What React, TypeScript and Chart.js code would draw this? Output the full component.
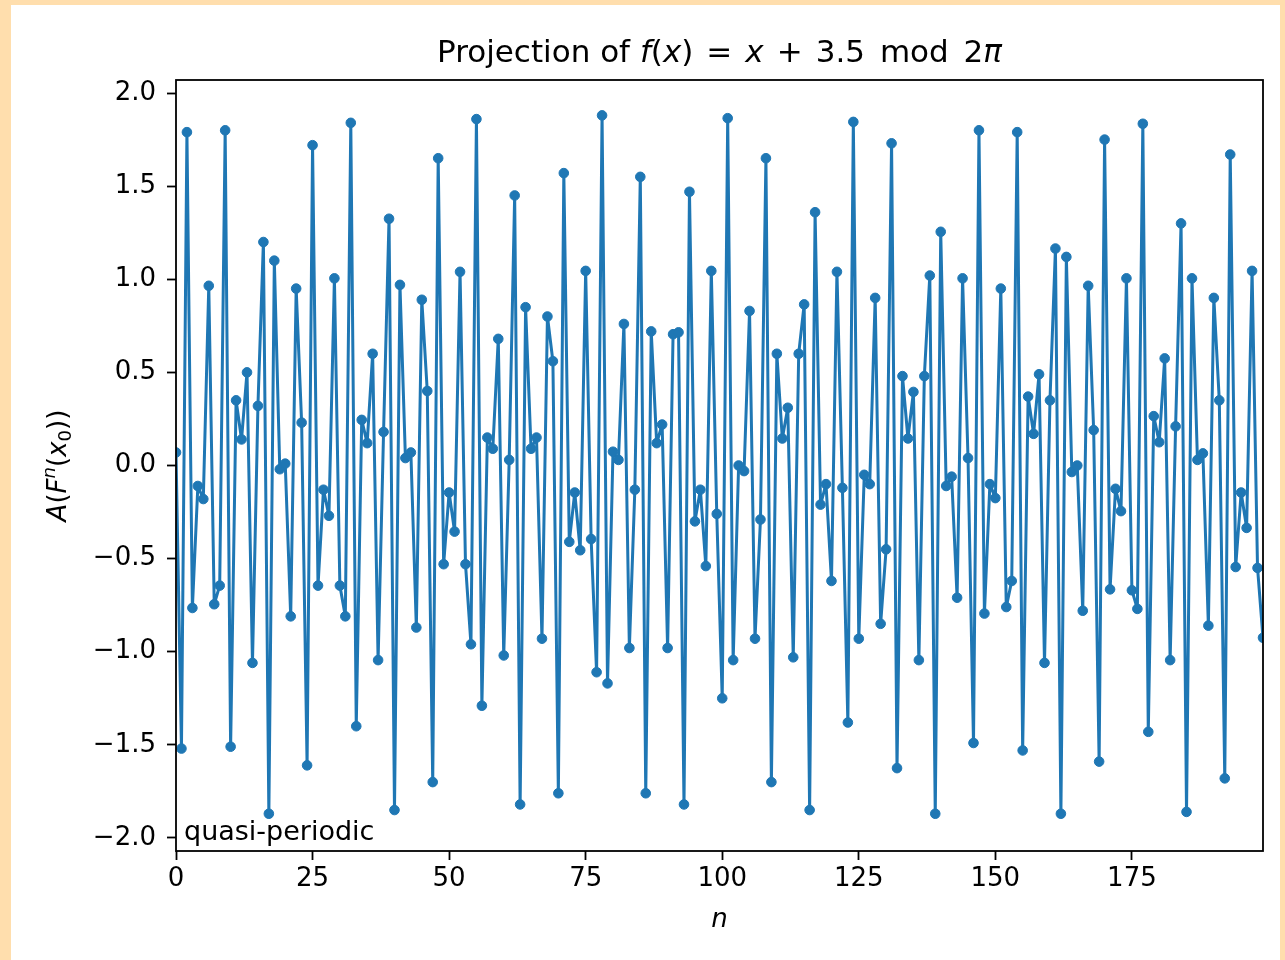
import React, { useEffect, useRef } from 'react';
import { Chart, registerables } from 'chart.js';

Chart.register(...registerables);

// iteration index n (categories on the x axis)
const nValues: number[] = Array.from({ length: 200 }, (_, i) => i);

// A(F^n(x0))
const amplitudes: number[] = [
  0.07, -1.52, 1.79, -0.765, -0.11, -0.18, 0.965, -0.745, -0.645, 1.8,
  -1.51, 0.35, 0.14, 0.5, -1.06, 0.32, 1.2, -1.87, 1.1, -0.02,
  0.01, -0.81, 0.95, 0.23, -1.61, 1.72, -0.645, -0.13, -0.27, 1.005,
  -0.645, -0.81, 1.84, -1.4, 0.245, 0.12, 0.6, -1.045, 0.18, 1.325,
  -1.85, 0.97, 0.04, 0.07, -0.87, 0.89, 0.4, -1.7, 1.65, -0.53,
  -0.145, -0.355, 1.04, -0.53, -0.96, 1.86, -1.29, 0.15, 0.09, 0.68,
  -1.02, 0.03, 1.45, -1.82, 0.85, 0.09, 0.15, -0.93, 0.8, 0.56,
  -1.76, 1.57, -0.41, -0.145, -0.455, 1.045, -0.395, -1.11, 1.88, -1.17,
  0.074, 0.03, 0.76, -0.98, -0.13, 1.55, -1.76, 0.72, 0.12, 0.22,
  -0.98, 0.705, 0.715, -1.82, 1.47, -0.3, -0.13, -0.54, 1.045, -0.26,
  -1.25, 1.865, -1.045, 0.0, -0.03, 0.83, -0.93, -0.29, 1.65, -1.7,
  0.6, 0.145, 0.31, -1.03, 0.6, 0.865, -1.85, 1.36, -0.21, -0.1,
  -0.62, 1.04, -0.12, -1.38, 1.845, -0.93, -0.05, -0.1, 0.9, -0.85,
  -0.45, 1.73, -1.625, 0.48, 0.145, 0.395, -1.045, 0.48, 1.02, -1.87,
  1.255, -0.11, -0.06, -0.71, 1.005, 0.04, -1.49, 1.8, -0.795, -0.1,
  -0.175, 0.95, -0.76, -0.62, 1.79, -1.53, 0.37, 0.17, 0.49, -1.06,
  0.35, 1.165, -1.87, 1.12, -0.035, 0.0, -0.78, 0.965, 0.19, -1.59,
  1.75, -0.665, -0.125, -0.245, 1.005, -0.67, -0.77, 1.835, -1.43, 0.265,
  0.125, 0.575, -1.045, 0.21, 1.3, -1.86, 1.005, 0.03, 0.065, -0.86,
  0.9, 0.35, -1.68, 1.67, -0.545, -0.145, -0.335, 1.045, -0.55, -0.925,
];

const xTickValues: number[] = [0, 25, 50, 75, 100, 125, 150, 175];
const yTickValues: number[] = [-2.0, -1.5, -1.0, -0.5, 0.0, 0.5, 1.0, 1.5, 2.0];

const xRange: number[] = [0, 199];
const yRange: number[] = [-2.07, 2.07];

const titleParts = [
  { text: 'Projection of ', italic: false },
  { text: 'f', italic: true },
  { text: '(', italic: false },
  { text: 'x', italic: true },
  { text: ')', italic: false, gapAfter: 0.42 },
  { text: '=', italic: false, gapAfter: 0.42 },
  { text: 'x', italic: true, gapAfter: 0.42 },
  { text: '+', italic: false, gapAfter: 0.42 },
  { text: '3.5', italic: false, gapAfter: 0.48 },
  { text: 'mod', italic: false, gapAfter: 0.48 },
  { text: '2', italic: false },
  { text: 'π', italic: true },
];
const yLabelParts = [
  { text: 'A', italic: true },
  { text: '(', italic: false },
  { text: 'F', italic: true },
  { text: 'n', italic: true, script: 'sup' },
  { text: '(', italic: false },
  { text: 'x', italic: true },
  { text: '0', italic: false, script: 'sub' },
  { text: '))', italic: false },
];
const xLabelParts = [{ text: 'n', italic: true }];
const annotationText = 'quasi-periodic';

const FAMILY = '"DejaVu Sans", Verdana, sans-serif';
const LINE_COLOR = '#1f77b4';

type Part = { text: string; italic: boolean; script?: string; gapAfter?: number };

function drawRich(ctx: CanvasRenderingContext2D, parts: Part[], size: number, x: number, y: number) {
  const measured = parts.map((p) => {
    const sz = p.script ? size * 0.7 : size;
    ctx.font = `${p.italic ? 'italic ' : ''}${sz}px ${FAMILY}`;
    return { ...p, sz, w: ctx.measureText(p.text).width + (p.gapAfter || 0) * size };
  });
  const total = measured.reduce((a, p) => a + p.w, 0);
  let cx = x - total / 2;
  ctx.textAlign = 'left';
  ctx.textBaseline = 'alphabetic';
  for (const p of measured) {
    ctx.font = `${p.italic ? 'italic ' : ''}${p.sz}px ${FAMILY}`;
    const dy = p.script === 'sup' ? -0.42 * size : p.script === 'sub' ? 0.2 * size : 0;
    ctx.fillText(p.text, cx, y + dy);
    cx += p.w;
  }
}

const overlayPlugin = {
  id: 'overlay',
  afterDatasetsDraw(chart: any) {
    const { ctx, chartArea } = chart;
    ctx.save();
    // annotation text
    ctx.fillStyle = '#000';
    ctx.font = `27px ${FAMILY}`;
    ctx.textAlign = 'left';
    ctx.textBaseline = 'alphabetic';
    ctx.fillText(annotationText, chartArea.left + 8, chartArea.bottom - 11);
    // spines
    ctx.strokeStyle = '#000';
    ctx.lineWidth = 1.8;
    ctx.strokeRect(chartArea.left, chartArea.top, chartArea.right - chartArea.left, chartArea.bottom - chartArea.top);
    // title
    const cxm = (chartArea.left + chartArea.right) / 2;
    drawRich(ctx, titleParts, 31, cxm, 62);
    // x label
    drawRich(ctx, xLabelParts, 26, cxm, 927);
    // y label
    ctx.translate(66, (chartArea.top + chartArea.bottom) / 2);
    ctx.rotate(-Math.PI / 2);
    drawRich(ctx, yLabelParts, 26, 0, 0);
    ctx.restore();
  },
};

export default function App() {
  const canvasRef = useRef<HTMLCanvasElement | null>(null);

  useEffect(() => {
    const canvas = canvasRef.current;
    if (!canvas) return;
    const chart = new Chart(canvas, {
      type: 'line',
      data: {
        datasets: [
          {
            data: nValues.map((n, i) => ({ x: n, y: amplitudes[i] })),
            borderColor: LINE_COLOR,
            backgroundColor: LINE_COLOR,
            borderWidth: 3,
            borderJoinStyle: 'round',
            borderCapStyle: 'round',
            pointRadius: 4.8,
            pointBorderWidth: 1,
            pointBackgroundColor: LINE_COLOR,
            pointBorderColor: LINE_COLOR,
            pointHoverRadius: 0,
            tension: 0,
            fill: false,
            clip: 0,
          } as any,
        ],
      },
      options: {
        animation: false,
        responsive: false,
        events: [],
        devicePixelRatio: 1,
        layout: { padding: { left: 0, top: 80, right: 22, bottom: 0 } },
        plugins: {
          legend: { display: false },
          tooltip: { enabled: false },
          title: { display: false },
        },
        scales: {
          x: {
            type: 'linear',
            min: xRange[0],
            max: xRange[1],
            afterBuildTicks: (s: any) => {
              s.ticks = xTickValues.map((v) => ({ value: v }));
            },
            afterFit: (s: any) => {
              s.height = 109;
              s.paddingLeft = 0;
              s.paddingRight = 0;
            },
            ticks: {
              font: { family: FAMILY, size: 26 },
              color: '#000',
              padding: 4,
              maxRotation: 0,
              autoSkip: false,
              callback: (v: any) => String(v),
            },
            grid: { drawOnChartArea: false, drawTicks: true, tickLength: 9, tickWidth: 1.8, tickColor: '#000' },
            border: { display: false },
          },
          y: {
            type: 'linear',
            min: yRange[0],
            max: yRange[1],
            afterBuildTicks: (s: any) => {
              s.ticks = yTickValues.map((v) => ({ value: v }));
            },
            afterFit: (s: any) => {
              s.width = 176;
              s.paddingTop = 0;
              s.paddingBottom = 0;
            },
            ticks: {
              font: { family: FAMILY, size: 26 },
              color: '#000',
              padding: 11,
              autoSkip: false,
              callback: (v: any) => Number(v).toFixed(1).replace('-', '\u2212'),
            },
            grid: { drawOnChartArea: false, drawTicks: true, tickLength: 9, tickWidth: 1.8, tickColor: '#000' },
            border: { display: false },
          },
        },
      } as any,
      plugins: [overlayPlugin],
    });
    return () => chart.destroy();
  }, []);

  return (
    <div style={{ position: 'absolute', left: 0, top: 0, width: 1285, height: 960, background: '#FFDEAD', overflow: 'hidden' }}>
      <div style={{ position: 'absolute', left: 11, top: 5, width: 1269, height: 955, background: '#ffffff' }} />
      <canvas
        ref={canvasRef}
        width={1285}
        height={960}
        style={{ position: 'absolute', left: 0, top: 0, width: 1285, height: 960 }}
      />
    </div>
  );
}
